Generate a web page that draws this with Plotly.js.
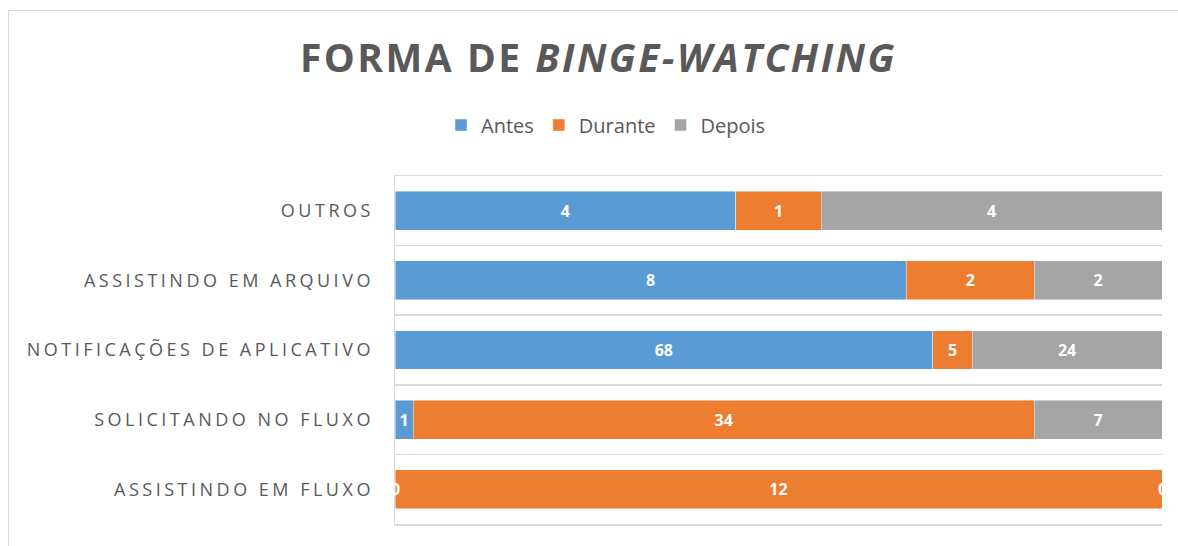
<!DOCTYPE html>
<html>
<head>
<meta charset="utf-8">
<script src="https://cdn.plot.ly/plotly-3.0.1.min.js"></script>
<style>
html, body { margin: 0; padding: 0; background: #fff; }
#wrap { position: relative; width: 1178px; height: 546px; overflow: hidden; }
#frame { position: absolute; left: 8px; top: 10px; width: 1300px; height: 700px; border: 1px solid #d9d9d9; pointer-events: none; }
#chart { position: absolute; left: 0; top: 0; width: 1178px; height: 546px; }
.ytick text { letter-spacing: 3.5px; }
.gtitle { letter-spacing: 2.5px; }
</style>
</head>
<body>
<div id="wrap">
<div id="frame"></div>
<div id="chart"></div>
</div>
<script>
const categories = ["OUTROS", "ASSISTINDO EM ARQUIVO", "NOTIFICAÇÕES DE APLICATIVO", "SOLICITANDO NO FLUXO", "ASSISTINDO EM FLUXO"];
const seriesNames = ["Antes", "Durante", "Depois"];
const antes   = [4, 8, 68, 1, 0];
const durante = [1, 2, 5, 34, 12];
const depois  = [4, 2, 24, 7, 0];
const colors = ["#5B9BD5", "#ED7D31", "#A5A5A5"];

const seriesValues = [antes, durante, depois];
const FONT = "Open Sans, Noto Sans, sans-serif";

const traces = seriesValues.map((vals, i) => ({
  type: "bar",
  orientation: "h",
  name: seriesNames[i],
  y: categories,
  x: vals,
  text: vals.map(String),
  texttemplate: "%{text}",
  textposition: "inside",
  insidetextanchor: "middle",
  constraintext: "none",
  textfont: { family: FONT, size: 16, color: "#ffffff", weight: "bold" },
  marker: { color: colors[i], line: { color: "rgba(255,255,255,0.6)", width: 0.75 } },
  hoverinfo: "skip"
}));

// zero-value labels (Excel shows them at the segment boundary)
const annotations = [];
categories.forEach((c, ci) => {
  const total = seriesValues.reduce((s, v) => s + v[ci], 0);
  let cum = 0;
  seriesValues.forEach((vals) => {
    if (vals[ci] === 0) {
      annotations.push({
        x: cum / total * 100, y: c, xref: "x", yref: "y",
        text: "0", showarrow: false, xanchor: "center", yanchor: "middle",
        font: { family: FONT, size: 16, color: "#ffffff", weight: "bold" }
      });
    }
    cum += vals[ci];
  });
});

const layout = {
  width: 1178, height: 546,
  paper_bgcolor: "rgba(0,0,0,0)",
  plot_bgcolor: "rgba(0,0,0,0)",
  margin: { l: 395, r: 16, t: 176, b: 22 },
  barmode: "stack",
  barnorm: "percent",
  bargap: 0.44,
  title: {
    text: "FORMA DE <i>BINGE-WATCHING</i>",
    font: { family: FONT, size: 39, color: "#595959", weight: "bold" },
    x: 0.508, xanchor: "center", xref: "container",
    y: 1 - 58 / 546, yanchor: "middle", yref: "container"
  },
  legend: {
    orientation: "h",
    x: (606 - 395) / 767, xanchor: "center",
    y: 1 + 51 / 348, yanchor: "middle",
    font: { family: FONT, size: 20, color: "#595959" },
    traceorder: "normal"
  },
  xaxis: {
    range: [0, 100], fixedrange: true,
    showticklabels: false, showgrid: false, zeroline: false,
    showline: true, mirror: true, linecolor: "#d9d9d9", linewidth: 1.5
  },
  yaxis: {
    type: "category", autorange: "reversed",
    showgrid: true, tickson: "boundaries", gridcolor: "#d9d9d9", gridwidth: 1.5,
    showline: true, linecolor: "#d9d9d9", linewidth: 1.5,
    ticks: "", ticklabelstandoff: 16,
    tickfont: { family: FONT, size: 18, color: "#595959" }
  },
  annotations: annotations,
  showlegend: true
};

Plotly.newPlot("chart", traces, layout, { displayModeBar: false, staticPlot: true });
</script>
</body>
</html>
